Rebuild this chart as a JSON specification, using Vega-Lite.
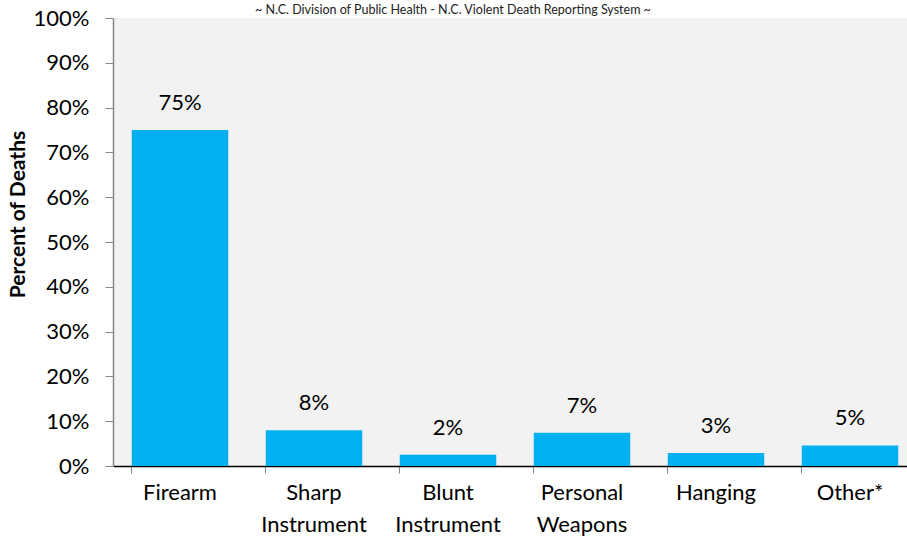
{
  "$schema": "https://vega.github.io/schema/vega-lite/v6.json",
  "width": 804,
  "height": 448,
  "autosize": {"type": "none"},
  "padding": {"left": 113, "top": 18, "right": 0, "bottom": 76},
  "background": "white",
  "title": {
    "text": "~ N.C. Division of Public Health - N.C. Violent Death Reporting System ~",
    "font": "Lato",
    "fontSize": 12.5,
    "fontWeight": "normal",
    "color": "#222222",
    "anchor": "start",
    "dx": 248,
    "dy": 13,
    "baseline": "bottom",
    "offset": -9
  },
  "config": {
    "view": {"fill": "#F2F2F2", "stroke": null},
    "font": "Lato"
  },
  "data": {
    "values": [
      {"method": "Firearm", "share": 0.750, "label": "75%"},
      {"method": "Sharp Instrument", "share": 0.080, "label": "8%"},
      {"method": "Blunt Instrument", "share": 0.025, "label": "2%"},
      {"method": "Personal Weapons", "share": 0.074, "label": "7%"},
      {"method": "Hanging", "share": 0.029, "label": "3%"},
      {"method": "Other*", "share": 0.046, "label": "5%"}
    ]
  },
  "encoding": {
    "x": {
      "field": "method",
      "type": "nominal",
      "sort": null,
      "scale": {"paddingInner": 0.28, "paddingOuter": 0.14},
      "axis": {
        "title": null,
        "labelAngle": 0,
        "labelFont": "Lato",
        "labelFontSize": 22,
        "labelColor": "#000000",
        "labelLineHeight": 32,
        "labelPadding": 9,
        "labelExpr": "split(datum.label, ' ')",
        "bandPosition": 0,
        "tickSize": 7,
        "tickColor": "#868686",
        "domainColor": "#000000",
        "domainWidth": 1.5,
        "grid": false
      }
    },
    "y": {
      "field": "share",
      "type": "quantitative",
      "scale": {"domain": [0, 1], "nice": false},
      "axis": {
        "title": "Percent of Deaths",
        "titleFont": "Lato",
        "titleFontSize": 21,
        "titleFontWeight": "bold",
        "titleColor": "#000000",
        "titleAngle": -90,
        "titleX": -95,
        "titleY": 196,
        "titleAlign": "center",
        "titleBaseline": "middle",
        "format": ".0%",
        "values": [0, 0.1, 0.2, 0.3, 0.4, 0.5, 0.6, 0.7, 0.8, 0.9, 1.0],
        "labelFont": "Lato",
        "labelFontSize": 22,
        "labelColor": "#000000",
        "labelPadding": 16,
        "tickSize": 8,
        "tickColor": "#868686",
        "domainColor": "#868686",
        "domainWidth": 1.5,
        "grid": false
      }
    }
  },
  "layer": [
    {"mark": {"type": "bar", "color": "#00B0F0"}},
    {
      "mark": {"type": "text", "baseline": "middle", "dy": -27, "fontSize": 22, "font": "Lato", "color": "#000000"},
      "encoding": {"text": {"field": "label"}}
    }
  ]
}
